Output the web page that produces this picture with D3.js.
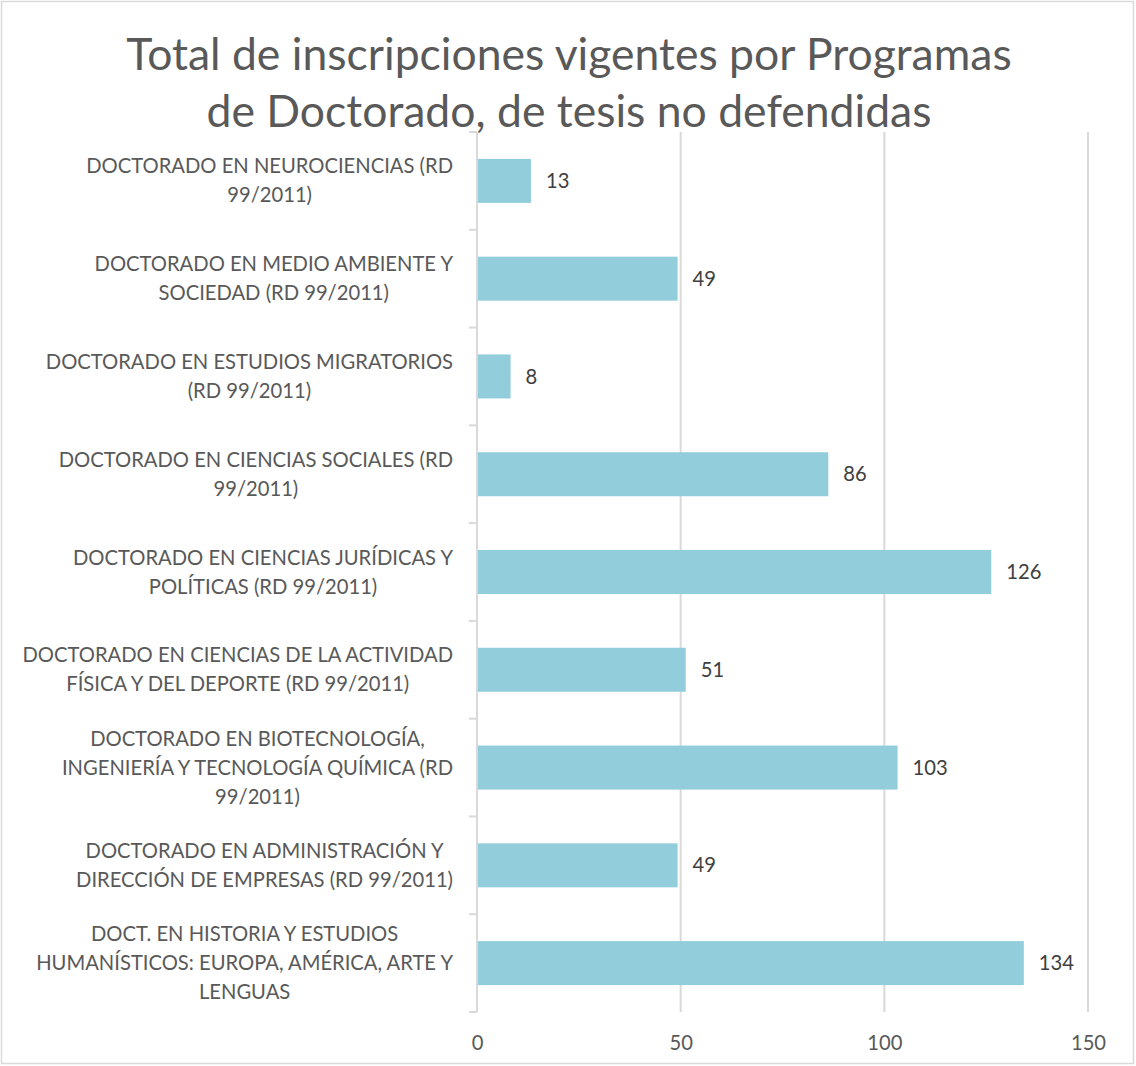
<!DOCTYPE html>
<html>
<head>
<meta charset="utf-8">
<script src="https://cdn.jsdelivr.net/npm/d3@7"></script>
<style>
  body { margin: 0; background: #fff; }
  text { font-family: Lato, "Open Sans", sans-serif; }
</style>
</head>
<body>
<svg width="1136" height="1066"></svg>
<script>
// Category labels, already split in lines like the original chart
var programLabels = [
    ['DOCTORADO EN NEUROCIENCIAS (RD', '99/2011)'],
    ['DOCTORADO EN MEDIO AMBIENTE Y', 'SOCIEDAD (RD 99/2011)'],
    ['DOCTORADO EN ESTUDIOS MIGRATORIOS', '(RD 99/2011)'],
    ['DOCTORADO EN CIENCIAS SOCIALES (RD', '99/2011)'],
    ['DOCTORADO EN CIENCIAS JURÍDICAS Y', 'POLÍTICAS (RD 99/2011)'],
    ['DOCTORADO EN CIENCIAS DE LA ACTIVIDAD', 'FÍSICA Y DEL DEPORTE (RD 99/2011)'],
    ['DOCTORADO EN BIOTECNOLOGÍA,', 'INGENIERÍA Y TECNOLOGÍA QUÍMICA (RD', '99/2011)'],
    ['DOCTORADO EN ADMINISTRACIÓN Y', 'DIRECCIÓN DE EMPRESAS (RD 99/2011)'],
    ['DOCT. EN HISTORIA Y ESTUDIOS', 'HUMANÍSTICOS: EUROPA, AMÉRICA, ARTE Y', 'LENGUAS']
];
var inscripciones = [13, 49, 8, 86, 126, 51, 103, 49, 134];
var xTicks = [0, 50, 100, 150];
var titleLines = ['Total de inscripciones vigentes por Programas', 'de Doctorado, de tesis no defendidas'];

var svg = d3.select('svg');
var svgWidth = +svg.attr('width');
var svgHeight = +svg.attr('height');

var padding = {t: 132, r: 48, b: 54, l: 477};
var chartWidth = svgWidth - padding.l - padding.r;
var chartHeight = svgHeight - padding.t - padding.b;

var gray = '#595959';
var lineGray = '#d9d9d9';
var fontSize = 20.2;

// outer frame
svg.append('rect')
    .attr('x', 1.5).attr('y', 1.5)
    .attr('width', svgWidth - 4).attr('height', svgHeight - 4)
    .attr('fill', '#fff')
    .attr('stroke', lineGray)
    .attr('stroke-width', 1.5);

var xScale = d3.scaleLinear().domain([0, 150]).range([0, chartWidth]);
var yScale = d3.scaleBand()
    .domain(d3.range(inscripciones.length))
    .range([0, chartHeight])
    .paddingInner(0.55)
    .paddingOuter(0.275);

var chartG = svg.append('g')
    .attr('transform', 'translate(' + [padding.l, padding.t] + ')');

// vertical gridlines
chartG.selectAll('.grid')
    .data(xTicks.slice(1))
    .enter().append('line')
    .attr('class', 'grid')
    .attr('x1', function(d) { return xScale(d); })
    .attr('x2', function(d) { return xScale(d); })
    .attr('y1', 0).attr('y2', chartHeight)
    .attr('stroke', lineGray)
    .attr('stroke-width', 2);

// x axis labels (no axis line in the original)
var xAxis = d3.axisBottom(xScale).tickValues(xTicks).tickSize(0).tickPadding(24);
var xAxisG = chartG.append('g')
    .attr('transform', 'translate(0,' + chartHeight + ')')
    .call(xAxis);
xAxisG.select('.domain').remove();
xAxisG.selectAll('text')
    .attr('font-size', fontSize)
    .attr('font-family', 'Lato, "Open Sans", sans-serif')
    .attr('fill', gray);

// left category axis with ticks between categories
var step = yScale.step();
chartG.append('line')
    .attr('x1', 0).attr('x2', 0)
    .attr('y1', 0).attr('y2', chartHeight)
    .attr('stroke', lineGray)
    .attr('stroke-width', 2);
chartG.selectAll('.ytick')
    .data(d3.range(inscripciones.length + 1))
    .enter().append('line')
    .attr('class', 'ytick')
    .attr('x1', -8).attr('x2', 0)
    .attr('y1', function(i) { return i * step; })
    .attr('y2', function(i) { return i * step; })
    .attr('stroke', lineGray)
    .attr('stroke-width', 2);

// bars
chartG.selectAll('.bar')
    .data(inscripciones)
    .enter().append('rect')
    .attr('class', 'bar')
    .attr('x', 1)
    .attr('y', function(d, i) { return yScale(i); })
    .attr('width', function(d) { return xScale(d); })
    .attr('height', yScale.bandwidth())
    .attr('fill', '#92cddc');

// value labels
chartG.selectAll('.value')
    .data(inscripciones)
    .enter().append('text')
    .attr('class', 'value')
    .attr('x', function(d) { return xScale(d) + 16; })
    .attr('y', function(d, i) { return yScale(i) + yScale.bandwidth() / 2; })
    .attr('dy', '0.35em')
    .attr('font-size', fontSize)
    .attr('fill', '#404040')
    .text(function(d) { return d; });

// category labels: block right aligned, lines centred within the block
var lineH = 29;
var labelG = chartG.selectAll('.cat')
    .data(programLabels)
    .enter().append('text')
    .attr('class', 'cat')
    .attr('font-size', fontSize)
    .attr('fill', gray)
    .attr('text-anchor', 'middle');

labelG.each(function(lines, i) {
    var t = d3.select(this);
    var cy = yScale(i) + yScale.bandwidth() / 2;
    var top = cy - (lines.length - 1) * lineH / 2;
    lines.forEach(function(l, j) {
        t.append('tspan')
            .attr('y', top + j * lineH)
            .attr('dy', '0.35em')
            .text(l);
    });
    var maxW = 0;
    t.selectAll('tspan').each(function() {
        maxW = Math.max(maxW, this.getComputedTextLength());
    });
    t.selectAll('tspan').attr('x', -24 - maxW / 2);
});

// title
svg.append('text')
    .attr('text-anchor', 'middle')
    .attr('font-size', 44.5)
    .attr('fill', gray)
    .selectAll('tspan')
    .data(titleLines)
    .enter().append('tspan')
    .attr('x', 569)
    .attr('y', function(d, i) { return 70 + i * 57; })
    .text(function(d) { return d; });
</script>
</body>
</html>
